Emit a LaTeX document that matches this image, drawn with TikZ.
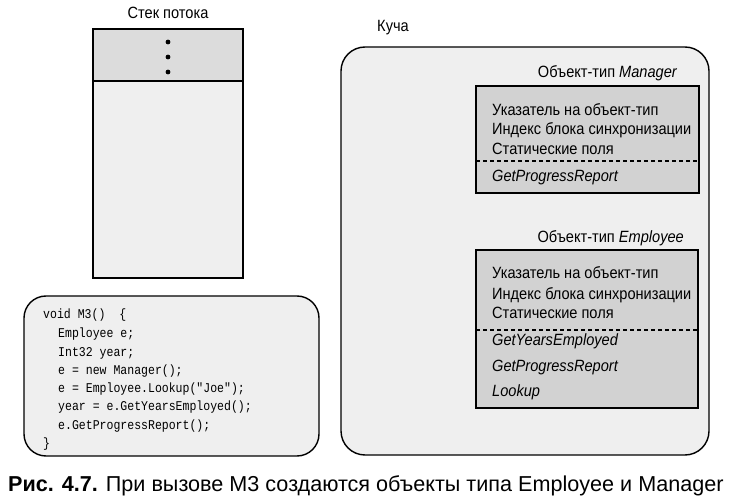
\documentclass[tikz,border=0pt]{standalone}
\usepackage{fontspec}
\setmainfont{Liberation Sans}
\newfontfamily\narrowsans[FakeStretch=0.895]{Liberation Sans}
\newfontfamily\narrowmono[FakeStretch=0.86]{Liberation Mono}
\definecolor{lightfill}{HTML}{EFEFEF}
\definecolor{stacktop}{HTML}{DCDCDC}
\definecolor{objfill}{HTML}{D2D2D2}
\tikzset{
  outline/.style={draw=black, line width=1.4pt},
  lbl/.style={inner sep=0pt, font=\narrowsans\fontsize{16.3}{19}\selectfont},
  row/.style={lbl, anchor=base west},
  itrow/.style={row, font=\narrowsans\itshape\fontsize{16.3}{19}\selectfont},
  coderow/.style={inner sep=0pt, anchor=base west, font=\narrowmono\fontsize{13.4}{15}\selectfont},
  sep/.style={line width=1.2pt, dash pattern=on 4pt off 3pt},
}
\begin{document}
\begin{tikzpicture}[x=1pt,y=-1pt]
\useasboundingbox (0,0) rectangle (732,497);
% stack
\node[lbl] (stacktitle) at (168,13) {Стек потока};
\path[fill=lightfill] (93,81) rectangle (243,278);
\path[fill=stacktop] (93,29) rectangle (243,81);
\draw[outline] (93,29) rectangle (243,278);
\draw[outline] (93,81) -- (243,81);
\foreach \yy in {42,57,72} \fill (168,\yy) circle (2.4);
% code box
\draw[outline, fill=lightfill, rounded corners=22] (24,296) rectangle (319,456);
\node[coderow] (c1) at (43,319) {void M3()\ \ \{};
\node[coderow] (c2) at (58,338) {Employee e;};
\node[coderow] (c3) at (58,357) {Int32 year;};
\node[coderow] (c4) at (58,375) {e = new Manager();};
\node[coderow] (c5) at (58,393) {e = Employee.Lookup("Joe");};
\node[coderow] (c6) at (58,411) {year = e.GetYearsEmployed();};
\node[coderow] (c7) at (58,430) {e.GetProgressReport();};
\node[coderow] (c8) at (43,448) {\}};
% heap
\node[lbl] (heaptitle) at (393,28) {Куча};
\draw[outline, fill=lightfill, rounded corners=24] (341,47) rectangle (709,455);
% Manager
\node[lbl, anchor=base east] (mtitle) at (677,78) {Объект-тип \itshape Manager};
\draw[outline, fill=objfill] (476,86) rectangle (699,193);
\node[row] (m1) at (492,116) {Указатель на объект-тип};
\node[row] (m2) at (492,135) {Индекс блока синхронизации};
\node[row] (m3) at (492,155) {Статические поля};
\draw[sep] (476,161) -- (699,161);
\node[itrow] (m4) at (492,182) {GetProgressReport};
% Employee
\node[lbl, anchor=base east] (etitle) at (684,243) {Объект-тип \itshape Employee};
\draw[outline, fill=objfill] (476,250) rectangle (698,408);
\node[row] (e1) at (492,279) {Указатель на объект-тип};
\node[row] (e2) at (492,300) {Индекс блока синхронизации};
\node[row] (e3) at (492,319) {Статические поля};
\draw[sep] (476,330) -- (698,330);
\node[itrow] (e4) at (492,346) {GetYearsEmployed};
\node[itrow] (e5) at (492,372) {GetProgressReport};
\node[itrow] (e6) at (492,397) {Lookup};
% caption
\node[inner sep=0pt, anchor=base west, font=\fontsize{21.6}{24}\selectfont] (cap) at (8,491) {\textbf{Рис. 4.7.} При вызове M3 создаются объекты типа Employee и Manager};
\end{tikzpicture}
\end{document}
